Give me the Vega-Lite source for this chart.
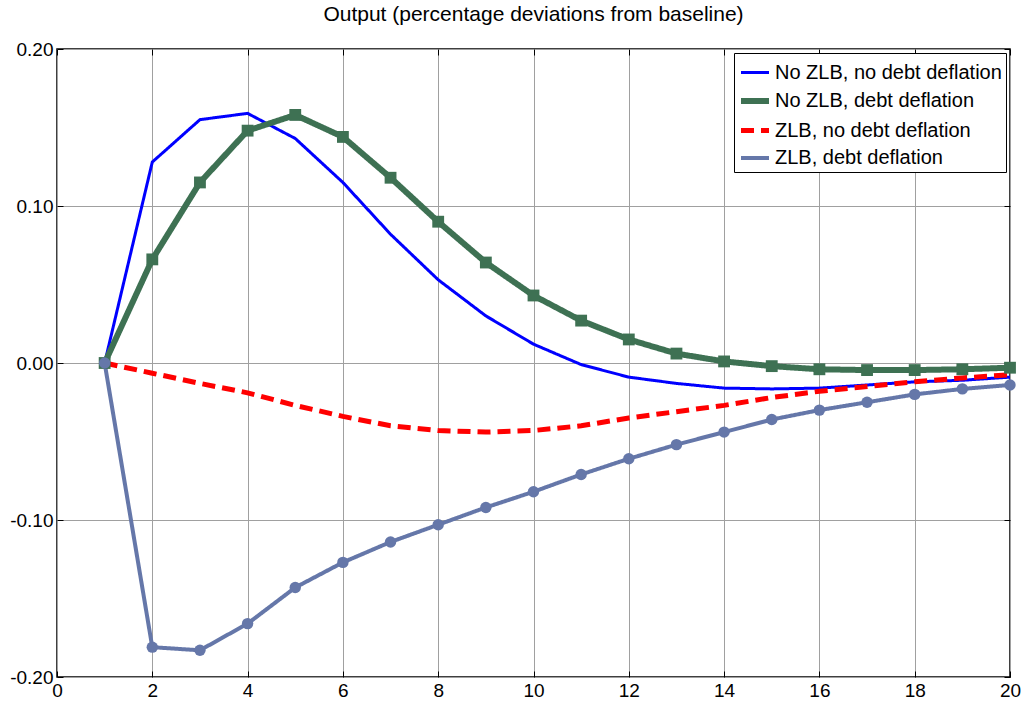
{
  "$schema": "https://vega.github.io/schema/vega-lite/v6.json",
  "width": 953,
  "height": 628,
  "autosize": {"type": "none"},
  "padding": {"left": 57, "top": 49, "right": 12, "bottom": 27},
  "background": "white",
  "config": {
    "font": "Liberation Sans",
    "view": {"stroke": "black", "strokeWidth": 1.5},
    "axis": {
      "domainColor": "black",
      "tickColor": "black",
      "labelColor": "black",
      "labelFont": "Liberation Sans",
      "labelFontSize": 19,
      "gridColor": "#a0a0a0",
      "gridOpacity": 1,
      "gridWidth": 1
    }
  },
  "title": {
    "text": "Output (percentage deviations from baseline)",
    "fontSize": 21,
    "fontWeight": "normal",
    "font": "Liberation Sans",
    "color": "black",
    "offset": 15
  },
  "data": {
    "values": [
      {"t": 1, "s": "No ZLB, no debt deflation", "v": 0},
      {"t": 2, "s": "No ZLB, no debt deflation", "v": 0.128},
      {"t": 3, "s": "No ZLB, no debt deflation", "v": 0.155},
      {"t": 4, "s": "No ZLB, no debt deflation", "v": 0.159},
      {"t": 5, "s": "No ZLB, no debt deflation", "v": 0.143},
      {"t": 6, "s": "No ZLB, no debt deflation", "v": 0.115},
      {"t": 7, "s": "No ZLB, no debt deflation", "v": 0.082},
      {"t": 8, "s": "No ZLB, no debt deflation", "v": 0.053},
      {"t": 9, "s": "No ZLB, no debt deflation", "v": 0.030},
      {"t": 10, "s": "No ZLB, no debt deflation", "v": 0.012},
      {"t": 11, "s": "No ZLB, no debt deflation", "v": -0.001},
      {"t": 12, "s": "No ZLB, no debt deflation", "v": -0.009},
      {"t": 13, "s": "No ZLB, no debt deflation", "v": -0.013},
      {"t": 14, "s": "No ZLB, no debt deflation", "v": -0.016},
      {"t": 15, "s": "No ZLB, no debt deflation", "v": -0.0165},
      {"t": 16, "s": "No ZLB, no debt deflation", "v": -0.016},
      {"t": 17, "s": "No ZLB, no debt deflation", "v": -0.014},
      {"t": 18, "s": "No ZLB, no debt deflation", "v": -0.012},
      {"t": 19, "s": "No ZLB, no debt deflation", "v": -0.011},
      {"t": 20, "s": "No ZLB, no debt deflation", "v": -0.009},
      {"t": 1, "s": "No ZLB, debt deflation", "v": 0},
      {"t": 2, "s": "No ZLB, debt deflation", "v": 0.066},
      {"t": 3, "s": "No ZLB, debt deflation", "v": 0.115},
      {"t": 4, "s": "No ZLB, debt deflation", "v": 0.148},
      {"t": 5, "s": "No ZLB, debt deflation", "v": 0.158},
      {"t": 6, "s": "No ZLB, debt deflation", "v": 0.144},
      {"t": 7, "s": "No ZLB, debt deflation", "v": 0.118},
      {"t": 8, "s": "No ZLB, debt deflation", "v": 0.090},
      {"t": 9, "s": "No ZLB, debt deflation", "v": 0.064},
      {"t": 10, "s": "No ZLB, debt deflation", "v": 0.043},
      {"t": 11, "s": "No ZLB, debt deflation", "v": 0.027},
      {"t": 12, "s": "No ZLB, debt deflation", "v": 0.015},
      {"t": 13, "s": "No ZLB, debt deflation", "v": 0.006},
      {"t": 14, "s": "No ZLB, debt deflation", "v": 0.001},
      {"t": 15, "s": "No ZLB, debt deflation", "v": -0.002},
      {"t": 16, "s": "No ZLB, debt deflation", "v": -0.004},
      {"t": 17, "s": "No ZLB, debt deflation", "v": -0.0045},
      {"t": 18, "s": "No ZLB, debt deflation", "v": -0.0045},
      {"t": 19, "s": "No ZLB, debt deflation", "v": -0.004},
      {"t": 20, "s": "No ZLB, debt deflation", "v": -0.003},
      {"t": 1, "s": "ZLB, no debt deflation", "v": 0},
      {"t": 2, "s": "ZLB, no debt deflation", "v": -0.0065},
      {"t": 3, "s": "ZLB, no debt deflation", "v": -0.013},
      {"t": 4, "s": "ZLB, no debt deflation", "v": -0.019},
      {"t": 5, "s": "ZLB, no debt deflation", "v": -0.027},
      {"t": 6, "s": "ZLB, no debt deflation", "v": -0.034},
      {"t": 7, "s": "ZLB, no debt deflation", "v": -0.040},
      {"t": 8, "s": "ZLB, no debt deflation", "v": -0.043},
      {"t": 9, "s": "ZLB, no debt deflation", "v": -0.044},
      {"t": 10, "s": "ZLB, no debt deflation", "v": -0.043},
      {"t": 11, "s": "ZLB, no debt deflation", "v": -0.040},
      {"t": 12, "s": "ZLB, no debt deflation", "v": -0.035},
      {"t": 13, "s": "ZLB, no debt deflation", "v": -0.031},
      {"t": 14, "s": "ZLB, no debt deflation", "v": -0.027},
      {"t": 15, "s": "ZLB, no debt deflation", "v": -0.022},
      {"t": 16, "s": "ZLB, no debt deflation", "v": -0.018},
      {"t": 17, "s": "ZLB, no debt deflation", "v": -0.015},
      {"t": 18, "s": "ZLB, no debt deflation", "v": -0.012},
      {"t": 19, "s": "ZLB, no debt deflation", "v": -0.0095},
      {"t": 20, "s": "ZLB, no debt deflation", "v": -0.0075},
      {"t": 1, "s": "ZLB, debt deflation", "v": 0},
      {"t": 2, "s": "ZLB, debt deflation", "v": -0.181},
      {"t": 3, "s": "ZLB, debt deflation", "v": -0.183},
      {"t": 4, "s": "ZLB, debt deflation", "v": -0.166},
      {"t": 5, "s": "ZLB, debt deflation", "v": -0.143},
      {"t": 6, "s": "ZLB, debt deflation", "v": -0.127},
      {"t": 7, "s": "ZLB, debt deflation", "v": -0.114},
      {"t": 8, "s": "ZLB, debt deflation", "v": -0.103},
      {"t": 9, "s": "ZLB, debt deflation", "v": -0.092},
      {"t": 10, "s": "ZLB, debt deflation", "v": -0.082},
      {"t": 11, "s": "ZLB, debt deflation", "v": -0.071},
      {"t": 12, "s": "ZLB, debt deflation", "v": -0.061},
      {"t": 13, "s": "ZLB, debt deflation", "v": -0.052},
      {"t": 14, "s": "ZLB, debt deflation", "v": -0.044},
      {"t": 15, "s": "ZLB, debt deflation", "v": -0.036},
      {"t": 16, "s": "ZLB, debt deflation", "v": -0.030},
      {"t": 17, "s": "ZLB, debt deflation", "v": -0.025},
      {"t": 18, "s": "ZLB, debt deflation", "v": -0.020},
      {"t": 19, "s": "ZLB, debt deflation", "v": -0.0165},
      {"t": 20, "s": "ZLB, debt deflation", "v": -0.014}
    ]
  },
  "resolve": {"axis": {"x": "independent", "y": "independent"}},
  "layer": [
    {
      "mark": {"type": "line", "clip": true},
      "encoding": {
        "x": {
          "field": "t", "type": "quantitative",
          "scale": {"domain": [0, 20], "nice": false, "zero": false},
          "axis": {"title": null, "values": [0, 2, 4, 6, 8, 10, 12, 14, 16, 18, 20], "tickSize": -6, "labelPadding": 10, "grid": true, "domain": false, "labelFlush": false}
        },
        "y": {
          "field": "v", "type": "quantitative",
          "scale": {"domain": [-0.2, 0.2], "nice": false, "zero": false},
          "axis": {"title": null, "values": [-0.2, -0.1, 0, 0.1, 0.2], "labelExpr": "(datum.value < -0.0001 ? '-' : '') + format(abs(datum.value), '.2f')", "tickSize": -6, "labelPadding": 10, "grid": true, "domain": false, "labelFlush": false}
        },
        "color": {
          "field": "s", "type": "nominal",
          "scale": {
            "domain": ["No ZLB, no debt deflation", "No ZLB, debt deflation", "ZLB, no debt deflation", "ZLB, debt deflation"],
            "range": ["#0000ff", "#3e7153", "#ff0000", "#6577a9"]
          },
          "legend": {
            "title": null,
            "orient": "top-right",
            "offset": 4,
            "symbolType": "stroke",
            "symbolSize": 784,
            "labelFontSize": 20,
            "labelFont": "Liberation Sans",
            "labelColor": "black",
            "labelOffset": 3,
            "labelLimit": 400,
            "rowPadding": 1,
            "padding": 4,
            "fillColor": "white",
            "strokeColor": "black"
          }
        },
        "strokeDash": {
          "field": "s", "type": "nominal",
          "scale": {
            "domain": ["No ZLB, no debt deflation", "No ZLB, debt deflation", "ZLB, no debt deflation", "ZLB, debt deflation"],
            "range": [[1, 0], [1, 0], [13, 7], [1, 0]]
          },
          "legend": null
        },
        "strokeWidth": {
          "field": "s", "type": "nominal",
          "scale": {
            "type": "ordinal",
            "domain": ["No ZLB, no debt deflation", "No ZLB, debt deflation", "ZLB, no debt deflation", "ZLB, debt deflation"],
            "range": [3, 6, 5, 4]
          },
          "legend": null
        }
      }
    },
    {
      "transform": [{"filter": "datum.s === 'No ZLB, debt deflation' || datum.s === 'ZLB, debt deflation'"}],
      "mark": {"type": "point", "filled": true, "opacity": 1},
      "encoding": {
        "x": {"field": "t", "type": "quantitative", "axis": null},
        "y": {"field": "v", "type": "quantitative", "axis": null},
        "color": {"field": "s", "type": "nominal", "legend": null},
        "shape": {
          "field": "s", "type": "nominal",
          "scale": {"domain": ["No ZLB, debt deflation", "ZLB, debt deflation"], "range": ["square", "circle"]},
          "legend": null
        },
        "size": {
          "field": "s", "type": "nominal",
          "scale": {"type": "ordinal", "domain": ["No ZLB, debt deflation", "ZLB, debt deflation"], "range": [140, 130]},
          "legend": null
        }
      }
    },
    {
      "mark": {"type": "point", "opacity": 0},
      "encoding": {
        "x": {"field": "t", "type": "quantitative", "axis": {"orient": "top", "title": null, "values": [0, 2, 4, 6, 8, 10, 12, 14, 16, 18, 20], "labels": false, "tickSize": -6, "grid": false, "domain": false}},
        "y": {"field": "v", "type": "quantitative", "axis": {"orient": "right", "title": null, "values": [-0.2, -0.1, 0, 0.1, 0.2], "labels": false, "tickSize": -6, "grid": false, "domain": false}}
      }
    }
  ]
}
